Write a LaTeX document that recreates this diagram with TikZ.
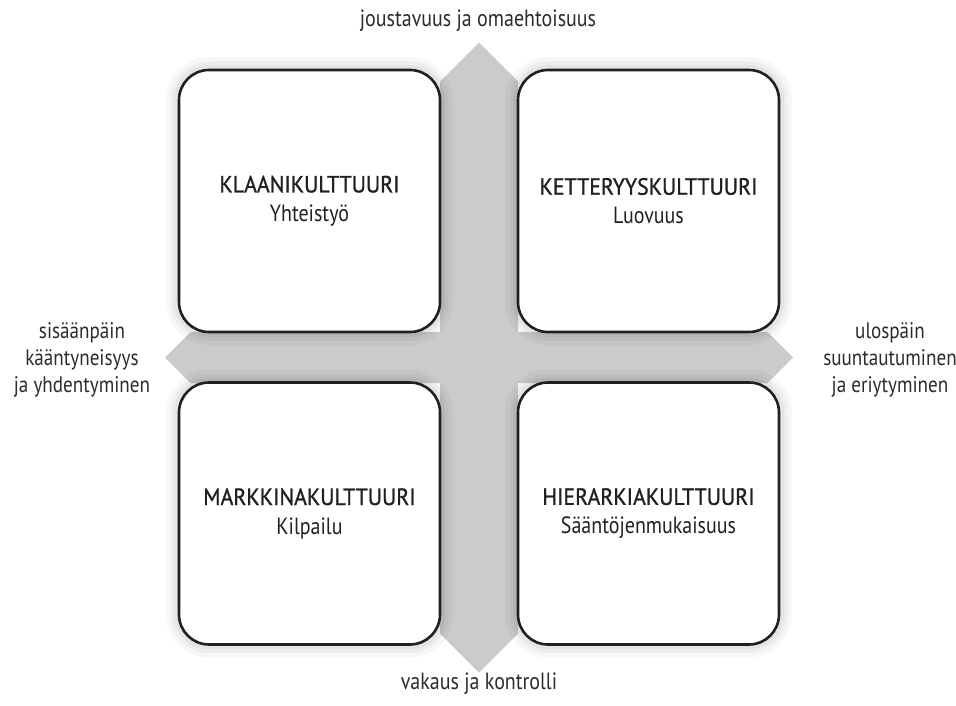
\documentclass[tikz,border=0pt]{standalone}
\usepackage{fontspec}
\setmainfont[FakeStretch=0.85]{PT Sans}
\newfontfamily\otsikkofont[FakeBold=1,FakeStretch=0.93]{PT Sans}
\definecolor{reuna}{HTML}{231F20}
\definecolor{risti}{HTML}{CBCBCD}
\definecolor{teksti}{HTML}{2B2B2B}
\tikzset{every node/.append style={transform shape=false}}

\begin{document}
\begin{tikzpicture}[x=1pt,y=-1pt,
  hehku/.style={preaction={draw=black,line width=26pt,draw opacity=.03},
                preaction={draw=black,line width=17pt,draw opacity=.035},
                preaction={draw=black,line width=10pt,draw opacity=.045}},
  kulttuuri/.style={hehku,draw=reuna,line width=2.6pt,fill=white,rounded corners=30pt,
                    minimum width=261pt,minimum height=262pt,inner sep=0pt,align=center,
                    text=reuna,font=\fontsize{23.5}{29}\selectfont},
  selite/.style={align=center,text=teksti,font=\fontsize{23.5}{27}\selectfont},
  sivuselite/.style={selite,font=\fontsize{22.5}{27}\selectfont}]
  \useasboundingbox (0,0) rectangle (956,706);

  % risti taustalla
  \fill[risti] (479,42.5) -- (518,81.5) -- (518,332) -- (767.5,332) -- (793,357.5)
    -- (767.5,383) -- (518,383) -- (518,633.5) -- (479,672.5) -- (440,633.5)
    -- (440,383) -- (190.5,383) -- (165,357.5) -- (190.5,332) -- (440,332)
    -- (440,81.5) -- cycle;

  \node[kulttuuri] (klaani) at (309.5,201) {{\otsikkofont KLAANIKULTTUURI}\\Yhteistyö};
  \node[kulttuuri] (ketteryys) at (648.5,201) {{\otsikkofont KETTERYYSKULTTUURI}\\Luovuus};
  \node[kulttuuri] (markkina) at (309.5,513.5) {{\otsikkofont MARKKINAKULTTUURI}\\Kilpailu};
  \node[kulttuuri] (hierarkia) at (648.5,513.5) {{\otsikkofont HIERARKIAKULTTUURI}\\Sääntöjenmukaisuus};

  \node[selite] (ylos) at (478,21) {joustavuus ja omaehtoisuus};
  \node[selite] (alas) at (479,684) {vakaus ja kontrolli};
  \node[sivuselite] (vasen) at (82,360) {sisäänpäin\\kääntyneisyys\\ja yhdentyminen};
  \node[sivuselite] (oikea) at (890,360) {ulospäin\\suuntautuminen\\ja eriytyminen};
\end{tikzpicture}
\end{document}
